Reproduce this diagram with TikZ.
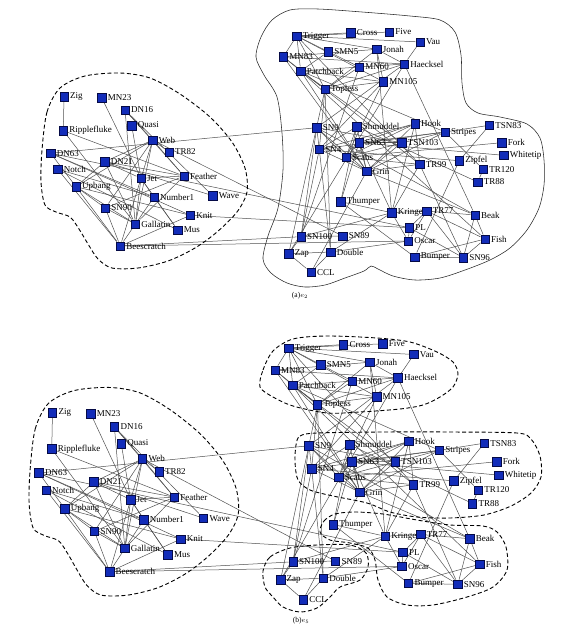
\documentclass[tikz,border=0pt]{standalone}
\usepackage{fontspec}
\setmainfont{Liberation Serif}
\usetikzlibrary{backgrounds}
\definecolor{sqfill}{RGB}{18,44,185}
\definecolor{sqdraw}{RGB}{5,10,70}
\definecolor{edgec}{RGB}{80,80,80}
\newcommand\dolphinnodes{0/475/215/Beak,1/120.3/246/Beescratch,2/414.7/257/Bumper,3/311/272.3/CCL,4/350.7/32.7/Cross,5/125/110/DN16,6/104.7/161.7/DN21,7/50.7/153.3/DN63,8/330.7/252/Double,9/184/176/Feather,10/485/239/Fish,11/389.3/32/Five,12/501.7/142.7/Fork,13/135.3/224/Gallatin,14/366.7/171.3/Grin,15/404.3/64/Haecksel,16/415/123.7/Hook,17/141/178.3/Jet,18/376.7/49.3/Jonah,19/190.3/215.3/Knit,20/391.7/212.7/Kringel,21/383.3/81.7/MN105,22/101.7/97.7/MN23,23/359.3/67/MN60,24/283.3/56.7/MN83,25/177.7/230/Mus,26/57.7/169.3/Notch,27/154/197/Number1,28/408.3/241/Oscar,29/300.7/71/Patchback,30/409.3/227.7/PL,31/131.7/125.7/Quasi,32/63.3/130.7/Ripplefluke,33/346/157.3/Scabs,34/356.7/126.7/Shmuddel,35/328.3/51.7/SMN5,36/301/236.7/SN100,37/319.3/149.3/SN4,38/359/142.7/SN63,39/342.7/236/SN89,40/316.7/127.7/SN9,41/105.3/208/SN90,42/463.3/257.7/SN96,43/445/132/Stripes,44/340.7/201.7/Thumper,45/325/89.3/Topless,46/483.3/169.3/TR120,47/426.7/211/TR77,48/169/152/TR82,49/477.7/182/TR88,50/419.7/164.3/TR99,51/296.7/36/Trigger,52/401.7/142.7/TSN103,53/489.3/125.3/TSN83,54/76/186.7/Upbang,55/420/42/Vau,56/212.7/195.7/Wave,57/152.7/140/Web,58/503.7/155.3/Whitetip,59/288.7/253.7/Zap,60/64/96.7/Zig,61/459.3/160.7/Zipfel}
\newcommand\dolphinedges{8/3,9/5,9/6,10/0,10/2,13/5,13/6,13/9,14/0,14/3,15/0,16/14,17/1,17/6,17/9,17/13,18/15,19/1,19/7,20/8,20/16,20/18,21/18,22/17,24/14,24/15,24/18,25/17,26/1,26/25,27/1,27/7,27/17,27/25,27/26,28/1,28/8,28/20,29/10,29/14,29/15,29/21,29/24,30/7,30/19,30/28,31/17,32/9,32/13,33/12,33/14,33/16,33/21,34/14,34/33,35/29,36/1,36/20,36/23,37/8,37/14,37/16,37/21,37/34,37/36,38/14,38/16,38/20,38/33,39/36,40/0,40/7,40/14,40/15,40/33,40/36,40/37,41/1,41/9,41/13,42/0,42/2,42/10,42/30,43/14,43/29,43/33,43/37,43/38,44/2,44/20,44/34,44/38,45/8,45/15,45/18,45/21,45/23,45/24,45/29,45/37,46/43,47/0,47/10,47/20,47/28,47/30,47/42,49/34,49/46,50/14,50/16,50/20,50/33,50/42,50/45,51/4,51/11,51/18,51/21,51/23,51/24,51/29,51/45,51/50,52/14,52/29,52/38,52/40,53/43,54/1,54/6,54/7,54/13,54/19,54/41,55/15,55/51,56/5,56/6,57/5,57/6,57/9,57/13,57/17,57/39,57/41,57/48,57/54,58/38,59/3,59/8,59/15,59/36,59/45,60/32,61/2,61/37,61/53}
\newcommand\drawdolphins[1]{%
  \foreach \i/\x/\y/\nm in \dolphinnodes {\node[sq,label={[lbl]right:\nm}] (#1\i) at (\x,\y) {};}
  \begin{pgfonlayer}{background}
    \foreach \s/\t in \dolphinedges {\draw[lnk] (#1\s) -- (#1\t);}
    \draw[dashout] plot[smooth cycle] coordinates {(42,150) (47,112) (60,88) (85,76) (120,73) (150,78) (180,94) (210,117) (232,142) (245,168) (247,192) (237,212) (217,232) (195,248) (168,261) (138,268) (112,268) (98,259) (88,244) (79,229) (70,217) (56,212) (45,205) (41,182)};
  \end{pgfonlayer}
}
\begin{document}
\begin{tikzpicture}[x=1pt,y=-1pt,
  sq/.style={rectangle,draw=sqdraw,fill=sqfill,line width=0.5pt,minimum size=8.5pt,inner sep=0pt},
  lbl/.style={font=\fontsize{9}{10}\selectfont,inner sep=0.8pt,text=black},
  label distance=0.6pt,
  lnk/.style={draw=edgec,line width=0.5pt},
  dashout/.style={draw=black,line width=0.9pt,dash pattern=on 4pt off 2.5pt},
  solidout/.style={draw=black!85,line width=0.55pt},
  captxt/.style={font=\fontsize{7.5}{8}\selectfont,inner sep=0pt}]
\useasboundingbox (0,0) rectangle (562,640);
% panel (a)
\drawdolphins{a}
\begin{pgfonlayer}{background}
\draw[solidout] plot[smooth cycle] coordinates {(256,57) (261,37) (272,20) (290,10) (318,9) (362,12) (410,16) (440,20) (455,32) (461,55) (462,83) (466,103) (478,113) (500,117) (527,124) (540,138) (544,160) (544,185) (539,208) (527,230) (510,248) (490,260) (465,270) (440,278) (415,280) (393,276) (378,269) (371,266) (364,271) (345,278) (325,285) (305,287) (287,283) (271,273) (263,259) (268,236) (278,208) (283,170) (282,133) (277,97) (264,75)};
\end{pgfonlayer}
\node[captxt] (capa) at (300,296) {(a)$e_2$};
% panel (b)
\begin{scope}[shift={(-12.5,309.7)},xscale=1.015,yscale=1.065]
\drawdolphins{b}
\end{scope}
\begin{pgfonlayer}{background}
\draw[dashout] plot[smooth cycle] coordinates {(260,387) (263,370) (273,351) (293,339) (327,336) (377,338) (410,342) (437,352) (453,362) (458,374) (453,387) (440,397) (423,405) (400,409) (360,412) (327,413) (293,406) (273,397)};
\draw[dashout] plot[smooth cycle] coordinates {(296,445) (300,436) (317,433) (383,432) (450,432) (517,433) (531,439) (540,456) (541,477) (531,493) (511,506) (484,515) (450,518) (417,517) (390,512) (367,503) (333,496) (310,490) (298,480) (295,462)};
\draw[dashout] plot[smooth cycle] coordinates {(320,532) (324,521) (335,514) (355,512) (383,514) (417,520) (450,525) (483,526) (497,532) (506,547) (507,570) (493,587) (467,597) (433,605) (407,605) (387,597) (378,580) (375,560) (368,548) (350,543) (330,540)};
\draw[dashout] plot[smooth cycle] coordinates {(263,571) (270,557) (290,548) (317,545) (350,545) (366,553) (368,567) (360,580) (340,587) (330,597) (317,608) (300,612) (283,607) (273,597) (265,587)};
\end{pgfonlayer}
\node[captxt] (capb) at (301,621) {(b)$e_5$};
\end{tikzpicture}
\end{document}
